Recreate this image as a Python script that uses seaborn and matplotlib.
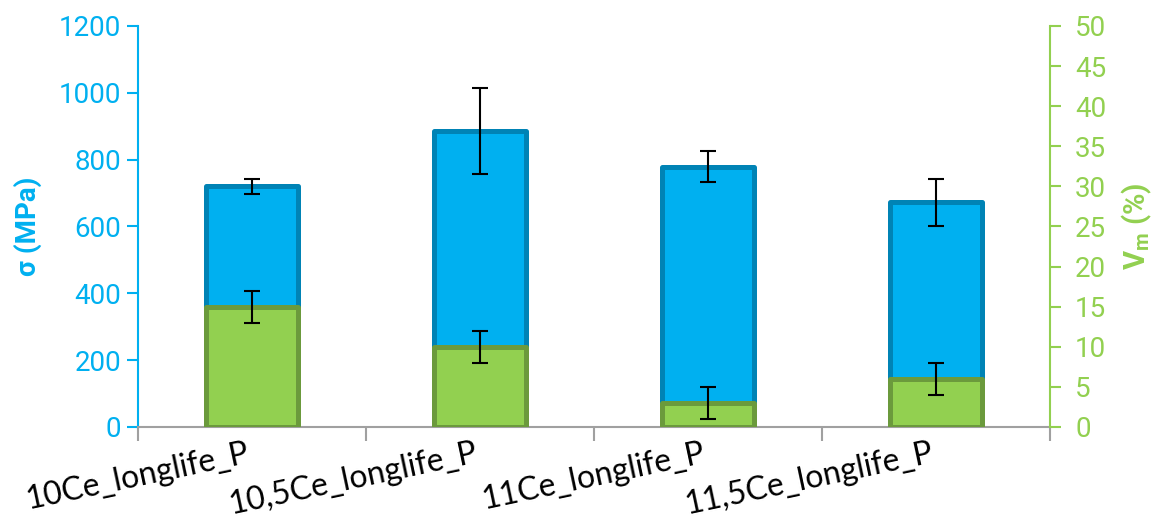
import numpy as np
import matplotlib
matplotlib.use('Agg')
import matplotlib.pyplot as plt
import seaborn as sns

# data
samples = ['10Ce_longlife_P', '10,5Ce_longlife_P', '11Ce_longlife_P', '11,5Ce_longlife_P']
sigma = [720, 885, 779, 672]
sigma_err = [22, 128, 47, 70]
vm = [15, 10, 3, 6]
vm_err = [2, 2, 2, 2]

blue = '#00B0F0'
blue_edge = '#0083B5'
green = '#92D050'
green_edge = '#6B9A3C'
grey = '#A0A0A0'

sns.set_theme(style='white')
plt.rcParams['font.family'] = ['Roboto', 'DejaVu Sans']

fig, ax = plt.subplots(figsize=(11.53, 5.19), dpi=100)
fig.subplots_adjust(left=0.1197, right=0.9107, top=0.95, bottom=0.1773)

# sigma bars (left axis)
sns.barplot(x=samples, y=sigma, ax=ax, color=blue, edgecolor=blue_edge,
            linewidth=3.6, width=0.4, saturation=1)
ax.errorbar(np.arange(len(samples)), sigma, yerr=sigma_err, fmt='none',
            ecolor='black', elinewidth=1.5, capsize=6, capthick=1.5, zorder=5)

# Vm bars (right axis)
ax2 = ax.twinx()
sns.barplot(x=samples, y=vm, ax=ax2, color=green, edgecolor=green_edge,
            linewidth=3.6, width=0.4, saturation=1)
ax2.errorbar(np.arange(len(samples)), vm, yerr=vm_err, fmt='none',
             ecolor='black', elinewidth=1.5, capsize=6, capthick=1.5, zorder=5)

for p in ax.patches + ax2.patches:
    p.set_joinstyle('round')

ax.set_xlim(-0.5, len(samples) - 0.5)
ax.set_ylim(0, 1200)
ax.set_yticks(np.arange(0, 1201, 200))
ax2.set_ylim(0, 50)
ax2.set_yticks(np.arange(0, 51, 5))

# spines
for s in ['top', 'right']:
    ax.spines[s].set_visible(False)
for s in ['top', 'left', 'bottom']:
    ax2.spines[s].set_visible(False)
ax.spines['left'].set_color(blue)
ax.spines['left'].set_linewidth(1.5)
ax.spines['bottom'].set_color(grey)
ax.spines['bottom'].set_linewidth(1.5)
ax2.spines['right'].set_color(green)
ax2.spines['right'].set_linewidth(1.5)

# ticks
ax.tick_params(axis='y', colors=blue, left=True, direction='out', length=8,
               width=1.5, labelsize=20, pad=4)
ax2.tick_params(axis='y', colors=green, right=True, direction='out', length=8,
                width=1.5, labelsize=20, pad=10)
ax.set_xticks(np.arange(-0.5, len(samples), 1), minor=True)
ax.tick_params(axis='x', which='major', length=0, pad=8)
ax.tick_params(axis='x', which='minor', bottom=True, length=10, width=1.5, color=grey)
for lbl in ax.get_xticklabels():
    lbl.set_rotation(12)
    lbl.set_ha('right')
    lbl.set_fontsize(23)
    lbl.set_family(['Lato', 'DejaVu Sans'])
    lbl.set_color('black')

ax.set_xlabel('')
ax.set_ylabel('σ (MPa)', color=blue, fontsize=20, fontweight='bold')
ax.yaxis.set_label_coords(-0.105, 0.5)
ax2.set_ylabel('V$_\\mathregular{m}$ (%)', color=green, fontsize=21, fontweight='bold')
ax2.yaxis.set_label_coords(1.077, 0.5)

plt.savefig('out.png', dpi=100)
